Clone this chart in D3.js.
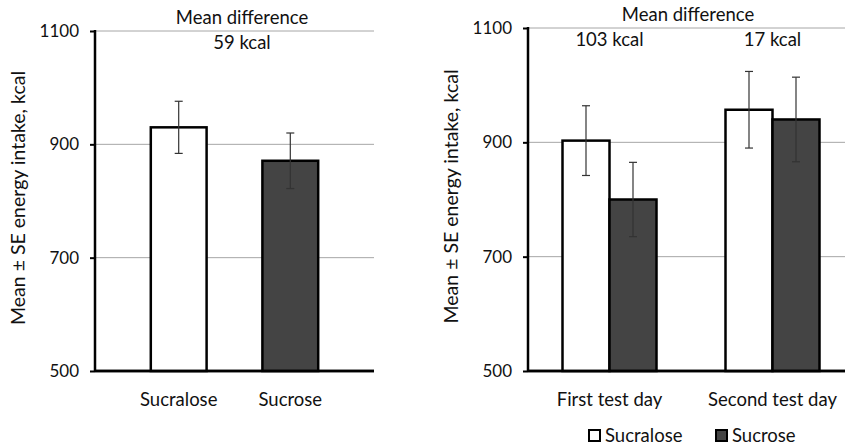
<!DOCTYPE html>
<html>
<head>
<meta charset="utf-8">
<script src="https://cdn.jsdelivr.net/npm/d3@7"></script>
<style>
  body { margin: 0; background: #fff; }
  text { font-family: Lato, "Open Sans", sans-serif; fill: #111; }
</style>
</head>
<body>
<script>
// ----------------------------------------
//  Data
// ----------------------------------------

var yTicks = [500, 700, 900, 1100];
var sugars = ["Sucralose", "Sucrose"];

// left panel: overall
var overallMeans = [930, 871];
var overallSE = [46, 49];
var overallDiff = "59 kcal";

// right panel: by test day
var days = ["First test day", "Second test day"];
var sucraloseMeans = [903, 957];
var sucraloseSE = [61, 67];
var sucroseMeans = [800, 940];
var sucroseSE = [65, 74];
var dayDiffs = ["103 kcal", "17 kcal"];

var colors = { Sucralose: "#ffffff", Sucrose: "#444444" };
var fs = "18.5px";

var svg = d3.select("body").append("svg")
    .attr("width", 845)
    .attr("height", 445);

// ----------------------------------------
//  Axes helper
// ----------------------------------------

function drawAxes(g, y, width) {
  // gridlines
  g.append("g")
    .selectAll("line")
    .data(yTicks.slice(1))
    .enter()
    .append("line")
    .attr("x1", 0).attr("x2", width)
    .attr("y1", function(d) { return y(d); })
    .attr("y2", function(d) { return y(d); })
    .attr("stroke", "#a6a6a6")
    .attr("stroke-width", 1);

  var ax = g.append("g")
    .call(d3.axisLeft(y).tickValues(yTicks).tickFormat(d3.format("d")).tickSize(5).tickPadding(11));
  ax.select(".domain").remove();
  ax.selectAll(".tick line").attr("stroke", "#000").attr("stroke-width", 2);
  ax.selectAll(".tick text")
    .style("font-size", "17px")
    .style("font-family", "Lato, sans-serif")
    .attr("fill", "#111");

  // axis lines
  g.append("line")
    .attr("x1", 0).attr("x2", 0)
    .attr("y1", y.range()[1] - 1).attr("y2", y.range()[0] + 1)
    .attr("stroke", "#000").attr("stroke-width", 2.5);
  g.append("line")
    .attr("x1", 0).attr("x2", width)
    .attr("y1", y.range()[0]).attr("y2", y.range()[0])
    .attr("stroke", "#000").attr("stroke-width", 2.5);
}

function drawErr(g, cx, y, mean, se) {
  g.append("line")
    .attr("x1", cx).attr("x2", cx)
    .attr("y1", y(mean + se)).attr("y2", y(mean - se))
    .attr("stroke", "#333").attr("stroke-width", 1.2);
  [mean + se, mean - se].forEach(function(v) {
    g.append("line")
      .attr("x1", cx - 4).attr("x2", cx + 4)
      .attr("y1", y(v)).attr("y2", y(v))
      .attr("stroke", "#333").attr("stroke-width", 1.2);
  });
}

function yTitle(g, y) {
  var mid = (y.range()[0] + y.range()[1]) / 2 - 3;
  g.append("text")
    .attr("transform", "translate(-70," + mid + ") rotate(-90)")
    .attr("text-anchor", "middle")
    .style("font-size", "19.5px")
    .text("Mean \u00b1 SE energy intake, kcal");
}

// ----------------------------------------
//  Left panel
// ----------------------------------------

var gL = svg.append("g").attr("transform", "translate(95,0)");
var wL = 279;
var yL = d3.scaleLinear().domain([500, 1100]).range([371, 31]);
var xL = d3.scaleBand().domain(sugars).range([0, wL]).padding(0.5);

drawAxes(gL, yL, wL);

gL.selectAll(".bar")
  .data(sugars)
  .enter()
  .append("rect")
  .attr("class", "bar")
  .attr("x", function(d) { return xL(d); })
  .attr("width", xL.bandwidth())
  .attr("y", function(d, i) { return yL(overallMeans[i]); })
  .attr("height", function(d, i) { return yL(500) - yL(overallMeans[i]); })
  .attr("fill", function(d) { return colors[d]; })
  .attr("stroke", "#000")
  .attr("stroke-width", 2.5);

sugars.forEach(function(d, i) {
  drawErr(gL, xL(d) + xL.bandwidth() / 2, yL, overallMeans[i], overallSE[i]);
  gL.append("text")
    .attr("x", xL(d) + xL.bandwidth() / 2)
    .attr("y", 406)
    .attr("text-anchor", "middle")
    .style("font-size", fs)
    .text(d);
});

// redraw baseline on top of bars
gL.append("line")
  .attr("x1", 0).attr("x2", wL)
  .attr("y1", yL(500)).attr("y2", yL(500))
  .attr("stroke", "#000").attr("stroke-width", 2.5);

gL.append("text").attr("x", 147).attr("y", 24).attr("text-anchor", "middle")
  .style("font-size", fs).text("Mean difference");
gL.append("text").attr("x", 147).attr("y", 49).attr("text-anchor", "middle")
  .style("font-size", fs).text(overallDiff);

yTitle(gL, yL);

// ----------------------------------------
//  Right panel
// ----------------------------------------

var gR = svg.append("g").attr("transform", "translate(528,0)");
var wR = 326;
var yR = d3.scaleLinear().domain([500, 1100]).range([371, 28]);
var x0 = d3.scaleBand().domain(days).range([0, wR]).padding(0);
var x1 = d3.scaleBand().domain(sugars).range([0, 94]);
var groupOff = (x0.bandwidth() - 94) / 2;

drawAxes(gR, yR, wR);

var series = [
  { key: "Sucralose", means: sucraloseMeans, se: sucraloseSE },
  { key: "Sucrose", means: sucroseMeans, se: sucroseSE }
];

series.forEach(function(s) {
  gR.selectAll(".bar-" + s.key)
    .data(days)
    .enter()
    .append("rect")
    .attr("x", function(d) { return x0(d) + groupOff + x1(s.key); })
    .attr("width", x1.bandwidth())
    .attr("y", function(d, i) { return yR(s.means[i]); })
    .attr("height", function(d, i) { return yR(500) - yR(s.means[i]); })
    .attr("fill", colors[s.key])
    .attr("stroke", "#000")
    .attr("stroke-width", 2.5);
});

series.forEach(function(s) {
  days.forEach(function(d, i) {
    drawErr(gR, x0(d) + groupOff + x1(s.key) + x1.bandwidth() / 2, yR, s.means[i], s.se[i]);
  });
});

gR.append("line")
  .attr("x1", 0).attr("x2", wR)
  .attr("y1", yR(500)).attr("y2", yR(500))
  .attr("stroke", "#000").attr("stroke-width", 2.5);

days.forEach(function(d, i) {
  var cx = x0(d) + x0.bandwidth() / 2;
  gR.append("text")
    .attr("x", cx).attr("y", 406)
    .attr("text-anchor", "middle")
    .style("font-size", fs)
    .text(d);
  gR.append("text")
    .attr("x", cx).attr("y", 46)
    .attr("text-anchor", "middle")
    .style("font-size", fs)
    .text(dayDiffs[i]);
});

gR.append("text").attr("x", 160).attr("y", 21).attr("text-anchor", "middle")
  .style("font-size", fs).text("Mean difference");

yTitle(gR, yR);

// ----------------------------------------
//  Legend
// ----------------------------------------

var legend = svg.append("g").attr("transform", "translate(588,429)");
var legX = [0, 127];
sugars.forEach(function(d, i) {
  legend.append("rect")
    .attr("x", legX[i] + 1).attr("y", 1)
    .attr("width", 11).attr("height", 11)
    .attr("fill", colors[d])
    .attr("stroke", "#000").attr("stroke-width", 2);
  legend.append("text")
    .attr("x", legX[i] + 17).attr("y", 13)
    .style("font-size", fs)
    .text(d);
});
</script>
</body>
</html>
